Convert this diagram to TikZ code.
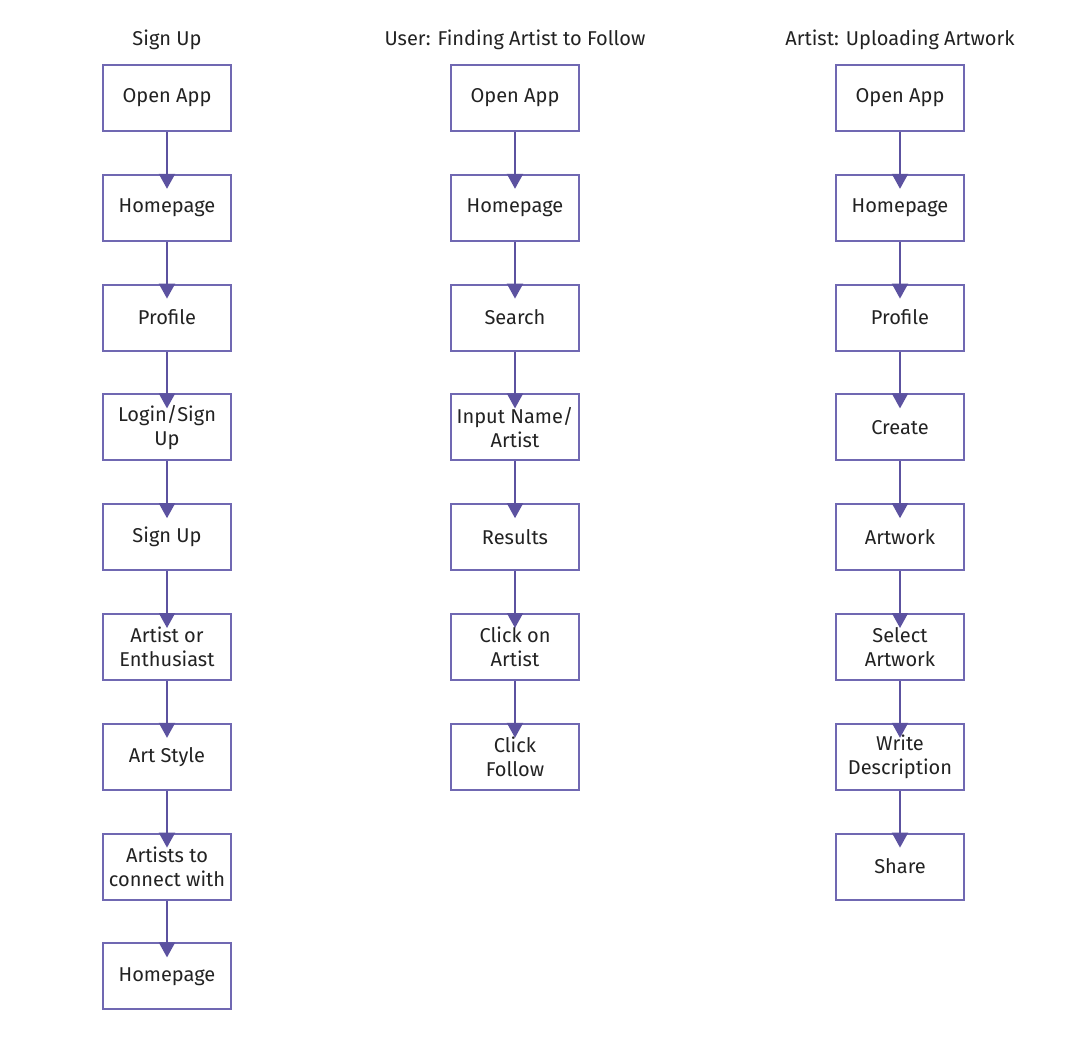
\documentclass[tikz,border=0pt]{standalone}
\usepackage{fontspec}
\setmainfont{Fira Sans}
\usetikzlibrary{positioning,arrows.meta}
\definecolor{boxline}{RGB}{112,104,178}
\definecolor{arrowc}{RGB}{92,82,160}
\definecolor{txt}{RGB}{34,34,34}
\begin{document}
\begin{tikzpicture}[font=\fontsize{10}{12}\selectfont,text=txt,node distance=20.9pt,
  box/.style={draw=boxline,line width=1pt,minimum width=64pt,minimum height=33pt,align=center,inner sep=1pt},
  flow/.style={draw=arrowc,line width=1pt,-{Triangle[length=7.5pt,width=8pt]},shorten >=-7.5pt}]
\useasboundingbox (0,0) rectangle (546pt,-520pt);
\node at (83.5pt,-20pt){Sign Up};
\node at (257.5pt,-20pt){User: Finding Artist to Follow};
\node at (450pt,-20pt){Artist: Uploading Artwork};
\node[box](s1) at (83.5pt,-49pt){Open App};
\node[box,below=of s1](s2){Homepage};
\node[box,below=of s2](s3){Profile};
\node[box,below=of s3](s4){Login/Sign\\Up};
\node[box,below=of s4](s5){Sign Up};
\node[box,below=of s5](s6){Artist or\\Enthusiast};
\node[box,below=of s6](s7){Art Style};
\node[box,below=of s7](s8){Artists to\\connect with};
\node[box,below=of s8](s9){Homepage};
\node[box](u1) at (257.5pt,-49pt){Open App};
\node[box,below=of u1](u2){Homepage};
\node[box,below=of u2](u3){Search};
\node[box,below=of u3](u4){Input Name/\\Artist};
\node[box,below=of u4](u5){Results};
\node[box,below=of u5](u6){Click on\\Artist};
\node[box,below=of u6](u7){Click\\Follow};
\node[box](a1) at (450pt,-49pt){Open App};
\node[box,below=of a1](a2){Homepage};
\node[box,below=of a2](a3){Profile};
\node[box,below=of a3](a4){Create};
\node[box,below=of a4](a5){Artwork};
\node[box,below=of a5](a6){Select\\Artwork};
\node[box,below=of a6](a7){Write\\Description};
\node[box,below=of a7](a8){Share};
\foreach \i [count=\j from 2] in {1,...,8} \draw[flow](s\i)--(s\j);
\foreach \i [count=\j from 2] in {1,...,6} \draw[flow](u\i)--(u\j);
\foreach \i [count=\j from 2] in {1,...,7} \draw[flow](a\i)--(a\j);
\end{tikzpicture}
\end{document}
